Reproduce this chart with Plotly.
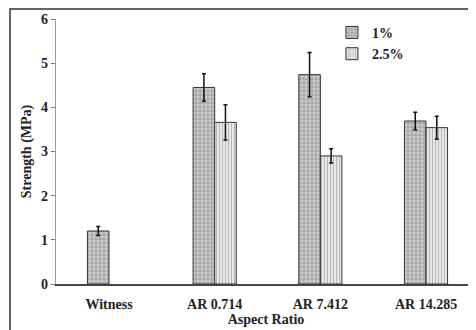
import plotly.graph_objects as go

categories = ["Witness", "AR 0.714", "AR 7.412", "AR 14.285"]
s1_name = "1%"
s1_values = [1.20, 4.45, 4.74, 3.69]
s1_err = [0.10, 0.31, 0.50, 0.20]
s2_name = "2.5%"
s2_values = [None, 3.66, 2.90, 3.54]
s2_err = [None, 0.40, 0.16, 0.26]
y_ticks = [0, 1, 2, 3, 4, 5, 6]

FONT = "Liberation Serif"

fig = go.Figure()
fig.add_trace(go.Bar(
    name=s1_name, x=categories, y=s1_values,
    marker=dict(color="#b4b4b4", line=dict(color="#333333", width=1),
                pattern=dict(shape=".", fgcolor="#f2f2f2", bgcolor="#a8a8a8", size=4, solidity=0.45)),
    error_y=dict(type="data", array=s1_err, visible=True, color="#111111", thickness=1.5, width=2),
))
fig.add_trace(go.Bar(
    name=s2_name, x=categories, y=s2_values,
    marker=dict(color="white", line=dict(color="#333333", width=1),
                pattern=dict(shape="|", fgcolor="#6e6e6e", bgcolor="white", size=3, solidity=0.55)),
    error_y=dict(type="data", array=s2_err, visible=True, color="#111111", thickness=1.5, width=2),
))

fig.update_layout(
    width=468, height=322,
    margin=dict(l=48, r=0, t=11, b=46, autoexpand=False),
    paper_bgcolor="white", plot_bgcolor="white",
    barmode="group", bargap=0.592, bargroupgap=0,
    font=dict(family=FONT, size=14, color="#222222"),
    legend=dict(x=0.657, y=1.008, xanchor="left", yanchor="top",
                font=dict(family=FONT, size=14, color="#222222", weight="bold"),
                bgcolor="rgba(0,0,0,0)", itemwidth=30, tracegroupgap=0),
    xaxis=dict(type="category", range=[-0.5016, 3.473], showgrid=False,
               showline=True, linecolor="#444444", linewidth=1.5, ticks="",
               ticklabelstandoff=6,
               tickfont=dict(family=FONT, size=14, weight="bold"),
               title=dict(text="<b>Aspect Ratio</b>", font=dict(family=FONT, size=14), standoff=3)),
    yaxis=dict(range=[0, 6], tickvals=y_ticks, showgrid=False, zeroline=False,
               showline=True, linecolor="#999999", linewidth=1.2,
               ticks="outside", ticklen=4, tickcolor="#777777",
               tickfont=dict(family=FONT, size=14, weight="bold"),
               title=dict(text="<b>Strength (MPa)</b>", font=dict(family=FONT, size=14), standoff=6)),
)

# outer frame (top and left edges visible; right/bottom run off the picture)
fx = (2 - 48) / 420
fy = 1 + (11 - 1) / 265
fig.add_shape(type="rect", xref="paper", yref="paper", layer="above",
              x0=fx, y0=-0.3, x1=1.05, y1=fy,
              line=dict(color="#333333", width=1.5), fillcolor="rgba(0,0,0,0)")

fig.write_html("out.html")
